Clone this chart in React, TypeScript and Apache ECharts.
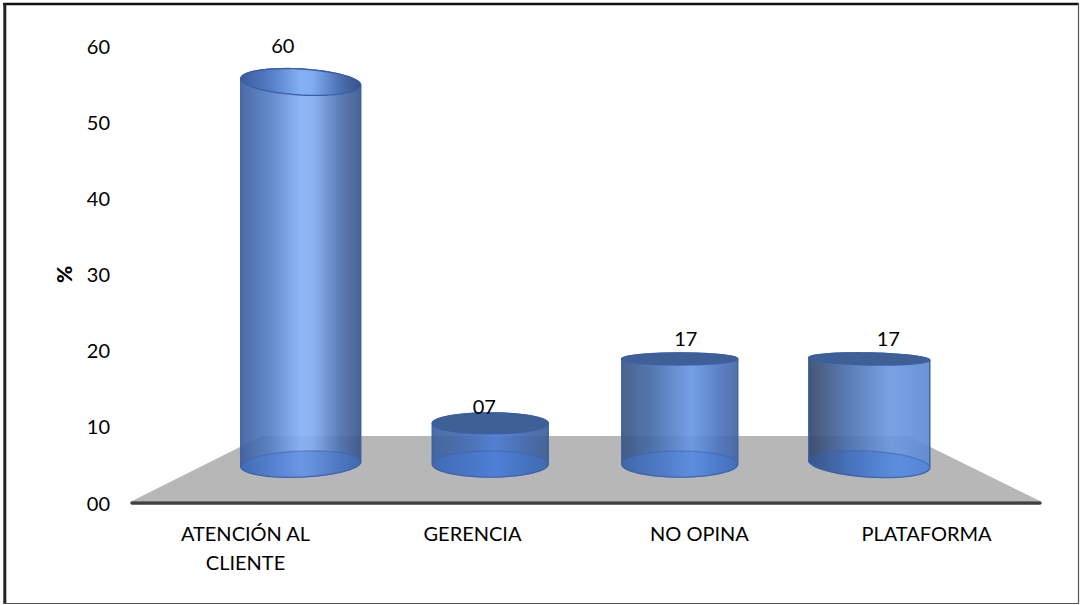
import React, { useEffect, useRef } from "react";
import * as echarts from "echarts";

const categories = ["ATENCIÓN AL\nCLIENTE", "GERENCIA", "NO OPINA", "PLATAFORMA"];
const percentValues = [60, 7, 17, 17];
const yTicks = { min: 0, max: 60, interval: 10 };
const yAxisName = "%";

const FONT = "Lato, Carlito, 'Noto Sans', sans-serif";

// per-cylinder look: half-widths, tilt, perspective, gradient stops, label offset
const firstBody = [[0, "rgba(58,92,158,0.98)"], [0.25, "rgba(84,126,198,0.98)"], [0.5, "rgba(132,176,246,0.98)"], [0.6, "rgba(128,172,240,0.98)"], [0.82, "rgba(76,112,178,0.98)"], [1, "rgba(54,82,134,0.98)"]];
const looks = [
  { hw: 60, topRy: 13, botRy: 13, topTilt: 0.055, botTilt: -0.04, dx: -18, dy: -37,
    body: firstBody,
    top: firstBody, bot: [[0, "#3f6cba"], [0.5, "#6592e2"], [1, "#3f6ab2"]] },
  { hw: 58, topRy: 10.5, botRy: 13, topTilt: 0, botTilt: 0, dx: -6, dy: -17,
    body: [[0, "rgba(58,94,154,0.98)"], [0.3, "rgba(64,106,180,0.98)"], [0.55, "rgba(72,122,212,0.98)"], [0.8, "rgba(64,102,174,0.98)"], [1, "rgba(58,92,146,0.98)"]],
    top: [[0, "#3f6095"], [1, "#3f6095"]], bot: [[0, "#3f6cb8"], [0.55, "#4d80d8"], [1, "#3f6cb4"]] },
  { hw: 58, topRy: 6, botRy: 13, topTilt: 0, botTilt: 0, dx: 6, dy: -21,
    body: [[0, "rgba(56,82,128,0.98)"], [0.25, "rgba(66,104,168,0.98)"], [0.6, "rgba(102,150,228,0.98)"], [0.85, "rgba(72,114,188,0.98)"], [1, "rgba(62,100,164,0.98)"]],
    top: [[0, "#3f6095"], [1, "#3f6095"]], bot: [[0, "#3e68b0"], [0.6, "#5a8cde"], [1, "#4270c0"]] },
  { hw: 60.5, topRy: 6, botRy: 13, topTilt: 0.02, botTilt: 0.06, dx: 19, dy: -21,
    body: [[0, "rgba(50,68,102,0.98)"], [0.3, "rgba(70,108,170,0.98)"], [0.68, "rgba(108,152,224,0.98)"], [1, "rgba(90,136,212,0.98)"]],
    top: [[0, "#3f6095"], [1, "#3f6095"]], bot: [[0, "#38558e"], [0.4, "#4876c4"], [0.75, "#588ce0"], [1, "#4f84d6"]] },
];

const grad = (stops: any[]) =>
  new echarts.graphic.LinearGradient(0, 0, 1, 0, stops.map(([offset, color]) => ({ offset, color })));

// points of a tilted ellipse arc, from angle a to angle b
function arc(cx: number, cy: number, rx: number, ry: number, tilt: number, a: number, b: number) {
  const pts: number[][] = [];
  const n = 48;
  for (let i = 0; i <= n; i++) {
    const t = a + ((b - a) * i) / n;
    pts.push([cx + rx * Math.cos(t), cy + ry * Math.sin(t) + rx * Math.cos(t) * tilt]);
  }
  return pts;
}

const EDGE = "#3a5fa6";

function renderCylinder(params: any, api: any) {
  const idx = api.value(0);
  const val = api.value(1);
  const look = looks[params.dataIndex];
  const [cx, topCy] = api.coord([idx, val]);
  const baseY = api.coord([idx, 0.7])[1];

  const bodyPts = [
    ...arc(cx, topCy, look.hw, look.topRy, look.topTilt, Math.PI, 2 * Math.PI),
    ...arc(cx, baseY, look.hw, look.botRy, look.botTilt, 0, Math.PI),
  ];
  return {
    type: "group",
    children: [
      {
        type: "polygon",
        shape: { points: bodyPts },
        style: { fill: grad(look.body), stroke: EDGE, lineWidth: 1.5, opacity: 0.92 },
      },
      {
        type: "polygon",
        shape: { points: arc(cx, baseY, look.hw, look.botRy, look.botTilt, 0, 2 * Math.PI) },
        style: { fill: grad(look.bot), stroke: "rgba(58,95,166,0.6)", lineWidth: 1.2, opacity: 0.85 },
      },
      {
        type: "polygon",
        shape: { points: arc(cx, topCy, look.hw, look.topRy, look.topTilt, 0, 2 * Math.PI) },
        style: { fill: grad(look.top), stroke: EDGE, lineWidth: 1.3 },
      },
      {
        type: "text",
        style: {
          text: String(val).padStart(2, "0"),
          x: cx + look.dx,
          y: topCy + look.dy,
          align: "center",
          verticalAlign: "middle",
          fill: "#000",
          font: `20px ${FONT}`,
        },
      },
    ],
  };
}

export default function App() {
  const ref = useRef<HTMLDivElement>(null);
  useEffect(() => {
    document.body.style.margin = "0";
    const chart = echarts.init(ref.current!, undefined, { renderer: "svg" });
    chart.setOption({
      animation: false,
      backgroundColor: "#fff",
      textStyle: { fontFamily: FONT },
      graphic: [
        { type: "line", z: 0, shape: { x1: 3, y1: 4, x2: 1079, y2: 4 }, style: { stroke: "#111", lineWidth: 2.5 } },
        { type: "line", z: 0, shape: { x1: 4.8, y1: 3, x2: 4.8, y2: 604 }, style: { stroke: "#222", lineWidth: 3 } },
        { type: "line", z: 0, shape: { x1: 1078.5, y1: 3, x2: 1078.5, y2: 604 }, style: { stroke: "#555", lineWidth: 1.2 } },
        { type: "line", z: 0, shape: { x1: 3, y1: 603.5, x2: 1079, y2: 603.5 }, style: { stroke: "#555", lineWidth: 1.2 } },
        { type: "polygon", z: 0, shape: { points: [[132, 501], [262, 436], [908, 436], [1040, 501]] }, style: { fill: "#b7b7b7" } },
      ],
      grid: [
        { left: 132, right: 40, top: 46, bottom: 102.5 },
        { left: 206, width: 758, top: 82, height: 386.5 },
      ],
      xAxis: [
        {
          type: "category",
          gridIndex: 0,
          data: categories,
          axisTick: { show: false },
          axisLine: { show: true, lineStyle: { color: "#404040", width: 3.5, cap: "round" } },
          axisLabel: { color: "#000", fontSize: 20, lineHeight: 29, margin: 16, fontFamily: FONT, interval: 0 },
        },
        { type: "category", gridIndex: 1, data: categories, show: false },
      ],
      yAxis: [
        {
          type: "value",
          gridIndex: 0,
          min: yTicks.min,
          max: yTicks.max,
          interval: yTicks.interval,
          name: yAxisName,
          nameLocation: "middle",
          nameGap: 58,
          nameRotate: 90,
          nameTextStyle: { color: "#000", fontSize: 21, fontWeight: 900, fontFamily: FONT },
          axisLine: { show: false },
          axisTick: { show: false },
          splitLine: { show: false },
          axisLabel: {
            color: "#000",
            fontSize: 20,
            margin: 22,
            fontFamily: FONT,
            formatter: (v: number) => String(v).padStart(2, "0"),
          },
        },
        { type: "value", gridIndex: 1, min: yTicks.min, max: yTicks.max, show: false },
      ],
      series: [
        {
          type: "custom",
          xAxisIndex: 1,
          yAxisIndex: 1,
          clip: false,
          renderItem: renderCylinder,
          encode: { x: 0, y: 1 },
          data: percentValues.map((v, i) => [i, v]),
        },
      ],
    });
    return () => chart.dispose();
  }, []);
  return <div ref={ref} style={{ width: 1080, height: 605 }} />;
}
